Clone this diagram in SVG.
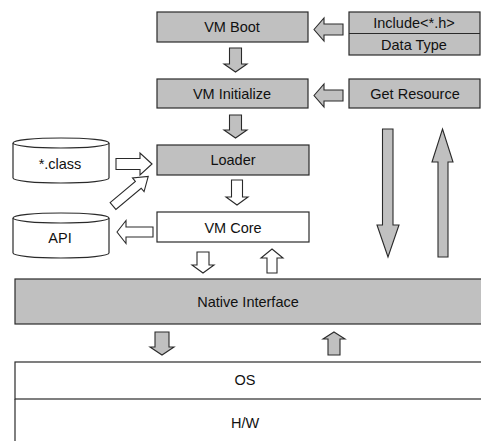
<svg xmlns="http://www.w3.org/2000/svg" width="481" height="441" viewBox="0 0 481 441">
<style>
.g{fill:#c0c0c0;stroke:#2a2a2a;stroke-width:1.2}
.w{fill:#ffffff;stroke:#2a2a2a;stroke-width:1.2}
.t{font-family:"Liberation Sans",Arial,sans-serif;font-size:14.5px;fill:#111111;text-anchor:middle;dominant-baseline:central}
.ag{fill:#c0c0c0;stroke:#2a2a2a;stroke-width:1.1;stroke-linejoin:miter}
.aw{fill:#ffffff;stroke:#2a2a2a;stroke-width:1.1;stroke-linejoin:miter}
</style>
<rect width="481" height="441" fill="#ffffff"/>
<g id="vm-boot"><rect class="g" x="157" y="12" width="151" height="30"/><text class="t" x="232" y="27">VM Boot</text></g>
<g id="include-datatype"><rect class="g" x="349" y="12" width="131" height="43"/><line x1="349" y1="33.5" x2="480" y2="33.5" stroke="#2a2a2a" stroke-width="1.2"/><text class="t" x="414" y="23">Include&lt;*.h&gt;</text><text class="t" x="414" y="45">Data Type</text></g>
<g id="vm-initialize"><rect class="g" x="157" y="79" width="151" height="29"/><text class="t" x="232" y="94">VM Initialize</text></g>
<g id="get-resource"><rect class="g" x="349" y="79" width="131" height="29"/><text class="t" x="415" y="94">Get Resource</text></g>
<g id="loader"><rect class="g" x="157" y="145" width="152" height="30"/><text class="t" x="233" y="160">Loader</text></g>
<g id="vm-core"><rect class="w" x="157" y="212" width="152" height="30"/><text class="t" x="233" y="228">VM Core</text></g>
<g id="class-files"><path class="w" d="M13,143 L13,178 A48,5 0 0 0 109,178 L109,143"/><ellipse class="w" cx="61" cy="143" rx="48" ry="5"/><text class="t" x="60" y="164">*.class</text></g>
<g id="api"><path class="w" d="M13,218 L13,253 A48,5 0 0 0 109,253 L109,218"/><ellipse class="w" cx="61" cy="218" rx="48" ry="5"/><text class="t" x="60" y="238">API</text></g>
<g id="native-interface"><rect class="g" x="15" y="279" width="470" height="45"/><text class="t" x="248" y="302">Native Interface</text></g>
<g id="os"><rect class="w" x="15" y="362" width="470" height="37"/><text class="t" x="245" y="380">OS</text></g>
<g id="hw"><path d="M15,399 L15,441" fill="none" stroke="#2a2a2a" stroke-width="1.2"/><text class="t" x="245" y="423">H/W</text></g>
<g id="connectors">
<polygon class="ag" points="314,29.5 324,18 324,24 343,24 343,35 324,35 324,41"/>
<polygon class="ag" points="314,95.5 324,84 324,90 343,90 343,101 324,101 324,107"/>
<polygon class="ag" points="229.5,48 241.5,48 241.5,64 247,64 235.5,72 224,64 229.5,64"/>
<polygon class="ag" points="229.5,115 241.5,115 241.5,130 247,130 235.5,138 224,130 229.5,130"/>
<polygon class="aw" points="231.5,180 242.5,180 242.5,197 248,197 237,205 226,197 231.5,197"/>
<polygon class="aw" points="152,164 140,153 140,158.5 116,158.5 116,169.5 140,169.5 140,175"/>
<polygon class="aw" transform="translate(113,206) rotate(-40)" points="0,-4.5 33,-4.5 33,-9 46,0 33,9 33,4.5 0,4.5"/>
<polygon class="aw" points="117,232 126,220.5 126,227 153,227 153,237 126,237 126,243.5"/>
<polygon class="aw" points="197,252 209,252 209,265 214,265 203,273 192,265 197,265"/>
<polygon class="aw" points="272,249 283,258 277,258 277,273 267,273 267,258 261,258"/>
<polygon class="ag" points="382.5,129 393,129 393,225 399,225 388,257 377,225 382.5,225"/>
<polygon class="ag" points="442.5,129 453,162 448,162 448,257 438,257 438,162 432,162"/>
<polygon class="ag" points="155,332 169,332 169,347 174,347 162,355 150,347 155,347"/>
<polygon class="ag" points="334,332 345,339 340,339 340,355 328,355 328,339 323,339"/>
</g>
</svg>
